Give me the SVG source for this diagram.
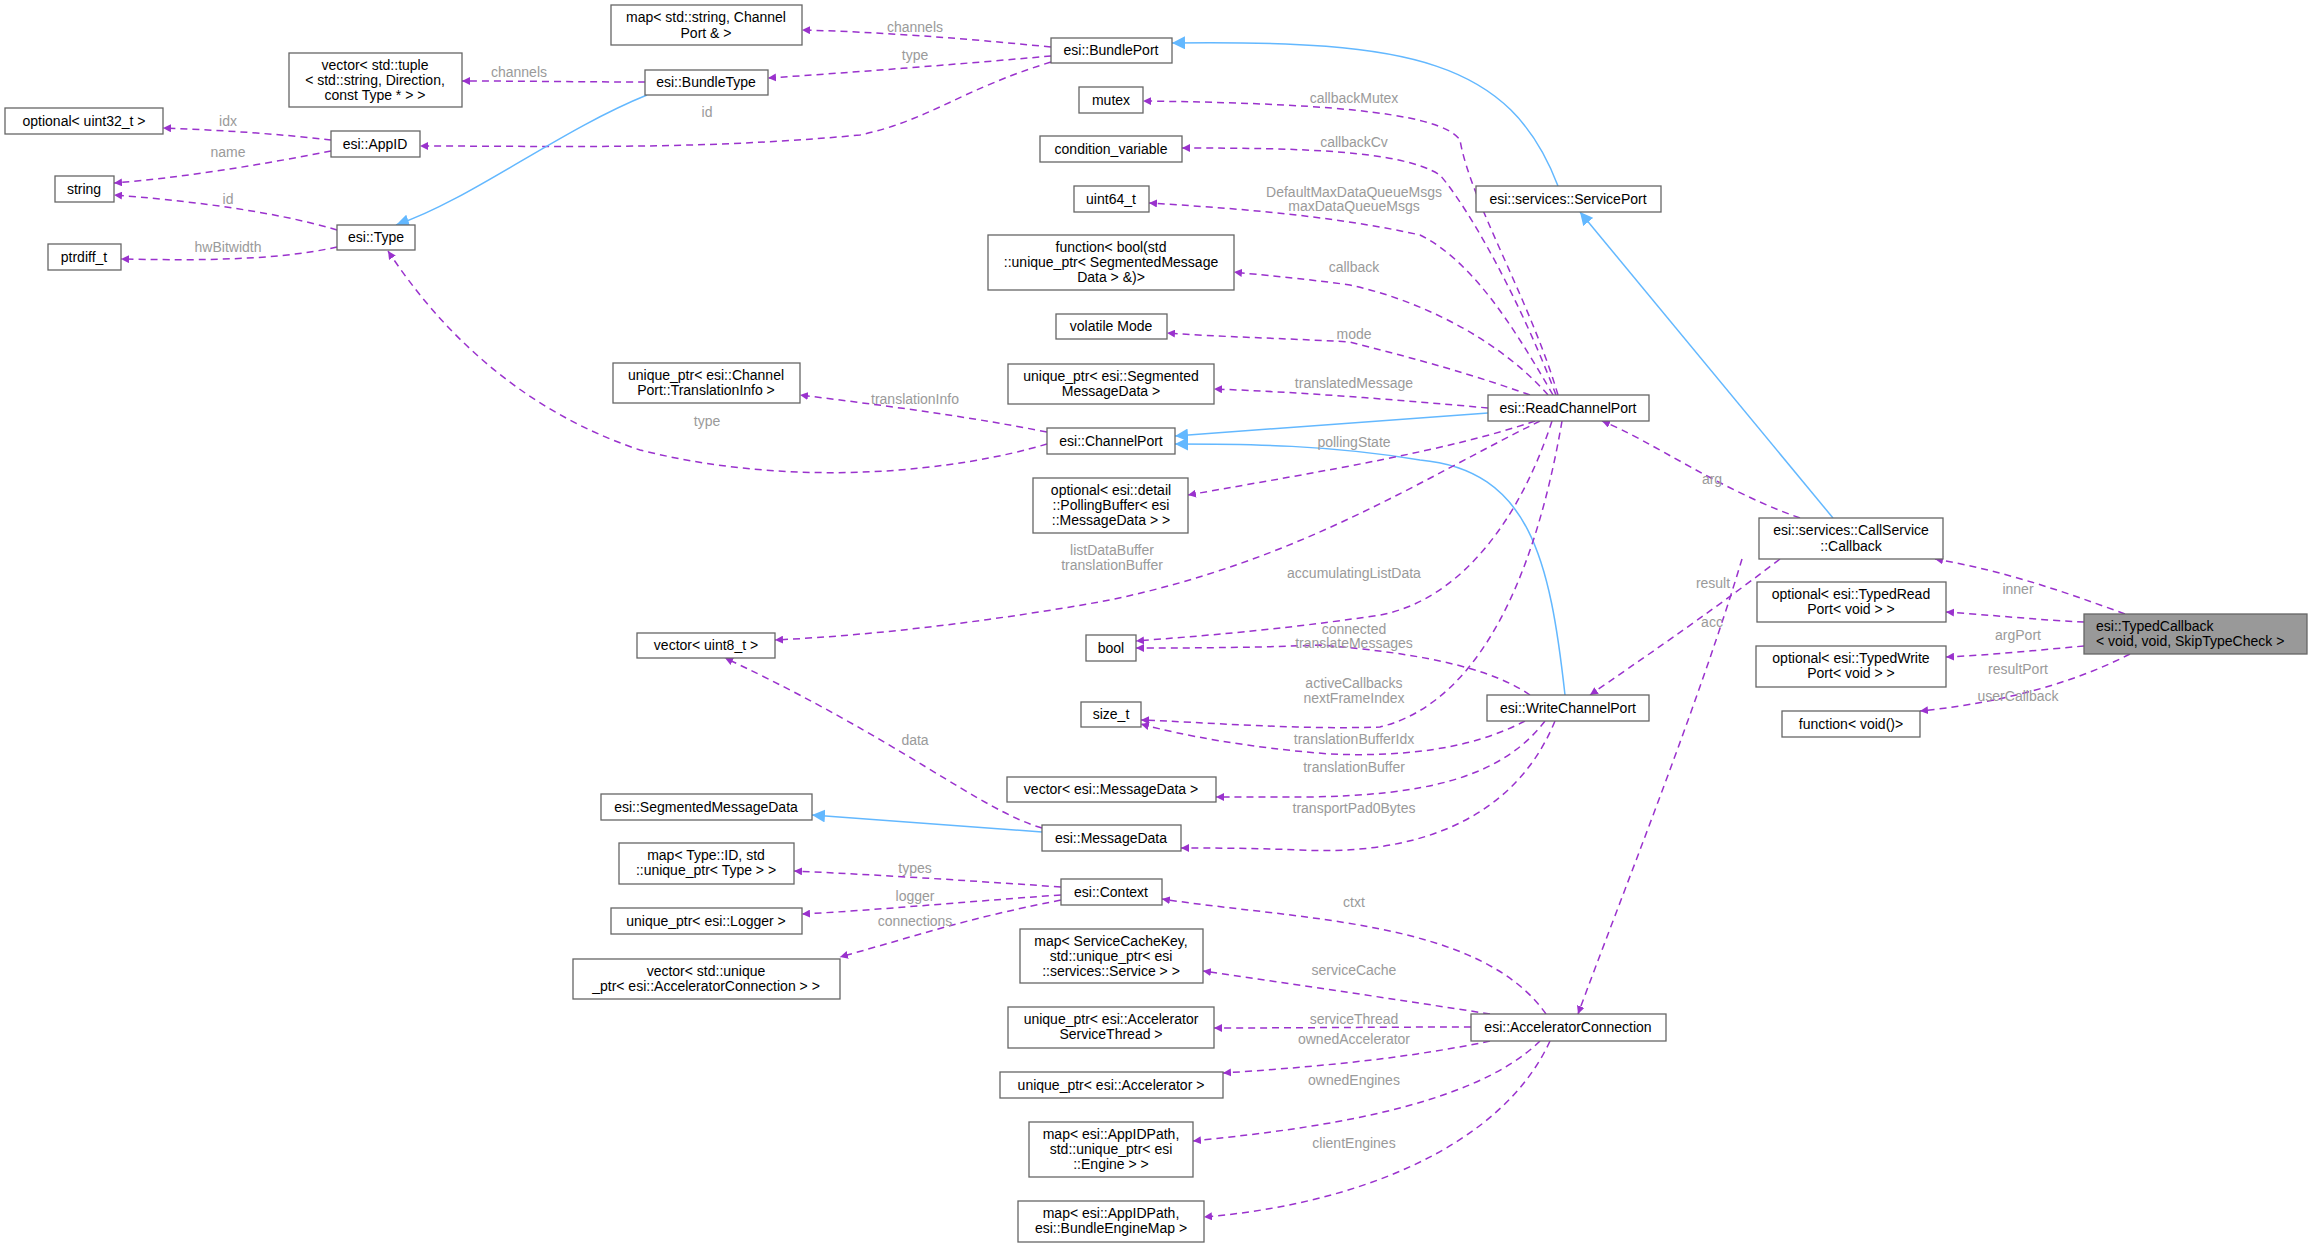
<svg xmlns="http://www.w3.org/2000/svg" width="2312" height="1247" viewBox="0 0 2312 1247">
<style>
.n rect{fill:#fff;stroke:#666;stroke-width:1.3}
.n text,.l{font-family:"Liberation Sans",Arial,sans-serif;font-size:14px;text-anchor:middle}
.n text{fill:#000}
.l{fill:#9a9a9a}
.d{fill:none;stroke:#9a32cd;stroke-width:1.5;stroke-dasharray:7,5;marker-end:url(#pa)}
.b{fill:none;stroke:#63b8ff;stroke-width:1.5;marker-end:url(#ba)}
</style>
<defs>
<marker id="pa" viewBox="0 0 10 10" refX="10" refY="5" markerWidth="8" markerHeight="8" orient="auto" markerUnits="userSpaceOnUse"><path d="M0,0L10,5L0,10z" fill="#9a32cd"/></marker>
<marker id="ba" viewBox="0 0 10 10" refX="10" refY="5" markerWidth="13" markerHeight="13" orient="auto" markerUnits="userSpaceOnUse"><path d="M0,0L10,5L0,10z" fill="#63b8ff"/></marker>
</defs>
<rect width="2312" height="1247" fill="#fff"/>
<g id="edges">
<path class="d" d="M1051,47 C960,38 880,32 802,30"/>
<path class="d" d="M1051,56 C960,64 860,72 768,78"/>
<path class="d" d="M1051,62 C960,90 930,120 860,135 C700,150 560,146 420,146"/>
<path class="d" d="M645,82 C590,82 520,81 462,81"/>
<path class="d" d="M331,140 C280,134 220,130 163,128"/>
<path class="d" d="M331,151 C260,165 180,178 114,183"/>
<path class="d" d="M337,230 C270,210 180,200 114,195"/>
<path class="d" d="M337,247 C270,262 180,260 121,259"/>
<path class="b" d="M647,95 C560,130 470,200 396,225"/>
<path class="d" d="M1047,444 C960,470 800,490 640,450 C520,410 440,330 388,251"/>
<path class="d" d="M1047,432 C960,415 880,405 800,395"/>
<path class="b" d="M1558,186 C1510,60 1410,40 1172,43"/>
<path class="b" d="M1833,518 L1580,212"/>
<path class="b" d="M1488,413 L1175,436"/>
<path class="b" d="M1565,695 C1550,560 1530,470 1420,460 C1330,445 1250,444 1175,444"/>
<path class="b" d="M1042,832 L812,815"/>
<path class="d" d="M1558,395 C1530,300 1470,200 1460,140 C1440,110 1300,103 1143,101"/>
<path class="d" d="M1556,395 C1520,300 1470,210 1440,175 C1400,150 1300,148 1182,148"/>
<path class="d" d="M1553,395 C1510,320 1470,260 1420,235 C1330,215 1230,208 1149,203"/>
<path class="d" d="M1548,395 C1500,340 1420,300 1350,285 C1300,278 1260,275 1234,272"/>
<path class="d" d="M1530,395 C1460,370 1400,355 1350,342 C1280,338 1220,337 1167,333"/>
<path class="d" d="M1488,408 C1400,400 1300,392 1214,389"/>
<path class="d" d="M1535,421 C1450,450 1330,470 1188,495"/>
<path class="d" d="M1540,421 C1420,480 1300,560 1110,600 C1000,620 880,635 775,640"/>
<path class="d" d="M1552,421 C1520,520 1460,600 1380,615 C1280,630 1200,636 1136,641"/>
<path class="d" d="M1562,421 C1540,550 1490,700 1380,727 C1300,730 1200,722 1141,720"/>
<path class="d" d="M1530,695 C1480,660 1380,650 1320,645 C1250,648 1180,648 1136,648"/>
<path class="d" d="M1525,721 C1470,750 1400,757 1330,754 C1250,748 1180,735 1141,724"/>
<path class="d" d="M1545,721 C1500,780 1420,795 1310,797 C1260,797 1230,797 1216,797"/>
<path class="d" d="M1555,721 C1510,830 1400,855 1300,850 C1250,848 1210,848 1181,848"/>
<path class="d" d="M1042,828 C980,810 900,740 725,658"/>
<path class="d" d="M1800,518 C1720,490 1650,440 1602,421"/>
<path class="d" d="M1780,559 C1700,620 1640,660 1590,695"/>
<path class="d" d="M1742,559 C1700,700 1620,900 1578,1014"/>
<path class="d" d="M2125,614 C2060,590 2000,570 1935,559"/>
<path class="d" d="M2084,622 C2040,620 1990,615 1946,612"/>
<path class="d" d="M2084,646 C2040,650 1990,655 1946,657"/>
<path class="d" d="M2130,654 C2060,690 1980,705 1920,711"/>
<path class="d" d="M1546,1014 C1480,920 1300,920 1162,899"/>
<path class="d" d="M1490,1014 C1400,1000 1300,985 1203,971"/>
<path class="d" d="M1471,1027 C1380,1027 1300,1028 1214,1028"/>
<path class="d" d="M1490,1041 C1400,1060 1300,1068 1223,1073"/>
<path class="d" d="M1540,1041 C1470,1110 1300,1130 1193,1141"/>
<path class="d" d="M1550,1041 C1500,1150 1350,1205 1204,1217"/>
<path class="d" d="M1061,887 C960,880 880,875 794,871"/>
<path class="d" d="M1061,895 C960,902 880,910 802,914"/>
<path class="d" d="M1061,900 C960,920 920,935 840,957"/>
</g>
<g id="labels">
<text class="l" x="915" y="32">channels</text>
<text class="l" x="915" y="60">type</text>
<text class="l" x="707" y="117">id</text>
<text class="l" x="519" y="77">channels</text>
<text class="l" x="228" y="126">idx</text>
<text class="l" x="228" y="157">name</text>
<text class="l" x="228" y="204">id</text>
<text class="l" x="228" y="252">hwBitwidth</text>
<text class="l" x="707" y="426">type</text>
<text class="l" x="915" y="404">translationInfo</text>
<text class="l" x="1354" y="103">callbackMutex</text>
<text class="l" x="1354" y="147">callbackCv</text>
<text class="l" x="1354" y="197">DefaultMaxDataQueueMsgs</text>
<text class="l" x="1354" y="211">maxDataQueueMsgs</text>
<text class="l" x="1354" y="272">callback</text>
<text class="l" x="1354" y="339">mode</text>
<text class="l" x="1354" y="388">translatedMessage</text>
<text class="l" x="1354" y="447">pollingState</text>
<text class="l" x="1112" y="555">listDataBuffer</text>
<text class="l" x="1112" y="570">translationBuffer</text>
<text class="l" x="1354" y="578">accumulatingListData</text>
<text class="l" x="1354" y="634">connected</text>
<text class="l" x="1354" y="648">translateMessages</text>
<text class="l" x="1354" y="688">activeCallbacks</text>
<text class="l" x="1354" y="703">nextFrameIndex</text>
<text class="l" x="1354" y="744">translationBufferIdx</text>
<text class="l" x="1354" y="772">translationBuffer</text>
<text class="l" x="1354" y="813">transportPad0Bytes</text>
<text class="l" x="915" y="745">data</text>
<text class="l" x="1712" y="484">arg</text>
<text class="l" x="1713" y="588">result</text>
<text class="l" x="1712" y="627">acc</text>
<text class="l" x="2018" y="594">inner</text>
<text class="l" x="2018" y="640">argPort</text>
<text class="l" x="2018" y="674">resultPort</text>
<text class="l" x="2018" y="701">userCallback</text>
<text class="l" x="1354" y="907">ctxt</text>
<text class="l" x="1354" y="975">serviceCache</text>
<text class="l" x="1354" y="1024">serviceThread</text>
<text class="l" x="1354" y="1044">ownedAccelerator</text>
<text class="l" x="1354" y="1085">ownedEngines</text>
<text class="l" x="1354" y="1148">clientEngines</text>
<text class="l" x="915" y="873">types</text>
<text class="l" x="915" y="901">logger</text>
<text class="l" x="915" y="926">connections</text>
</g>
<g id="mapBundle" class="n"><rect x="611" y="5" width="191" height="40"/><text x="706" y="22">map&lt; std::string, Channel</text><text x="706" y="38">Port &amp; &gt;</text></g>
<g id="vecTuple" class="n"><rect x="289" y="53" width="173" height="54"/><text x="375" y="70">vector&lt; std::tuple</text><text x="375" y="85">&lt; std::string, Direction,</text><text x="375" y="100">const Type * &gt; &gt;</text></g>
<g id="BundleType" class="n"><rect x="645" y="70" width="123" height="25"/><text x="706" y="87">esi::BundleType</text></g>
<g id="BundlePort" class="n"><rect x="1051" y="38" width="121" height="25"/><text x="1111" y="55">esi::BundlePort</text></g>
<g id="optU32" class="n"><rect x="5" y="108" width="158" height="26"/><text x="84" y="126">optional&lt; uint32_t &gt;</text></g>
<g id="AppID" class="n"><rect x="331" y="131" width="89" height="26"/><text x="375" y="149">esi::AppID</text></g>
<g id="string" class="n"><rect x="55" y="176" width="59" height="26"/><text x="84" y="194">string</text></g>
<g id="Type" class="n"><rect x="337" y="225" width="78" height="25"/><text x="376" y="242">esi::Type</text></g>
<g id="ptrdiff" class="n"><rect x="48" y="244" width="73" height="26"/><text x="84" y="262">ptrdiff_t</text></g>
<g id="transInfo" class="n"><rect x="613" y="363" width="187" height="40"/><text x="706" y="380">unique_ptr&lt; esi::Channel</text><text x="706" y="395">Port::TranslationInfo &gt;</text></g>
<g id="ChannelPort" class="n"><rect x="1047" y="428" width="128" height="26"/><text x="1111" y="446">esi::ChannelPort</text></g>
<g id="mutex" class="n"><rect x="1079" y="87" width="64" height="26"/><text x="1111" y="105">mutex</text></g>
<g id="condvar" class="n"><rect x="1040" y="136" width="142" height="26"/><text x="1111" y="154">condition_variable</text></g>
<g id="uint64" class="n"><rect x="1074" y="186" width="75" height="26"/><text x="1111" y="204">uint64_t</text></g>
<g id="funcBool" class="n"><rect x="988" y="235" width="246" height="55"/><text x="1111" y="252">function&lt; bool(std</text><text x="1111" y="267">::unique_ptr&lt; SegmentedMessage</text><text x="1111" y="282">Data &gt; &amp;)&gt;</text></g>
<g id="volMode" class="n"><rect x="1056" y="314" width="111" height="25"/><text x="1111" y="331">volatile Mode</text></g>
<g id="upSeg" class="n"><rect x="1008" y="364" width="206" height="40"/><text x="1111" y="381">unique_ptr&lt; esi::Segmented</text><text x="1111" y="396">MessageData &gt;</text></g>
<g id="ReadChannelPort" class="n"><rect x="1488" y="395" width="161" height="26"/><text x="1568" y="413">esi::ReadChannelPort</text></g>
<g id="ServicePort" class="n"><rect x="1476" y="186" width="185" height="26"/><text x="1568" y="204">esi::services::ServicePort</text></g>
<g id="polling" class="n"><rect x="1033" y="478" width="155" height="55"/><text x="1111" y="495">optional&lt; esi::detail</text><text x="1111" y="510">::PollingBuffer&lt; esi</text><text x="1111" y="525">::MessageData &gt; &gt;</text></g>
<g id="Callback" class="n"><rect x="1759" y="518" width="184" height="41"/><text x="1851" y="535">esi::services::CallService</text><text x="1851" y="551">::Callback</text></g>
<g id="typedRead" class="n"><rect x="1757" y="582" width="189" height="40"/><text x="1851" y="599">optional&lt; esi::TypedRead</text><text x="1851" y="614">Port&lt; void &gt; &gt;</text></g>
<g id="TypedCallback" class="n"><rect x="2084" y="614" width="223" height="40" style="fill:#999"/><text x="2096" y="631" style="text-anchor:start">esi::TypedCallback</text><text x="2096" y="646" style="text-anchor:start">&lt; void, void, SkipTypeCheck &gt;</text></g>
<g id="typedWrite" class="n"><rect x="1756" y="646" width="190" height="41"/><text x="1851" y="663">optional&lt; esi::TypedWrite</text><text x="1851" y="678">Port&lt; void &gt; &gt;</text></g>
<g id="funcVoid" class="n"><rect x="1782" y="711" width="138" height="26"/><text x="1851" y="729">function&lt; void()&gt;</text></g>
<g id="bool" class="n"><rect x="1086" y="635" width="50" height="26"/><text x="1111" y="653">bool</text></g>
<g id="WriteChannelPort" class="n"><rect x="1487" y="695" width="162" height="26"/><text x="1568" y="713">esi::WriteChannelPort</text></g>
<g id="size_t" class="n"><rect x="1081" y="702" width="60" height="25"/><text x="1111" y="719">size_t</text></g>
<g id="vecMD" class="n"><rect x="1007" y="777" width="209" height="25"/><text x="1111" y="794">vector&lt; esi::MessageData &gt;</text></g>
<g id="MessageData" class="n"><rect x="1042" y="825" width="139" height="26"/><text x="1111" y="843">esi::MessageData</text></g>
<g id="Context" class="n"><rect x="1061" y="879" width="101" height="26"/><text x="1111" y="897">esi::Context</text></g>
<g id="mapSvc" class="n"><rect x="1020" y="929" width="183" height="54"/><text x="1111" y="946">map&lt; ServiceCacheKey,</text><text x="1111" y="961">std::unique_ptr&lt; esi</text><text x="1111" y="976">::services::Service &gt; &gt;</text></g>
<g id="svcThread" class="n"><rect x="1008" y="1007" width="206" height="41"/><text x="1111" y="1024">unique_ptr&lt; esi::Accelerator</text><text x="1111" y="1039">ServiceThread &gt;</text></g>
<g id="upAcc" class="n"><rect x="1000" y="1072" width="223" height="26"/><text x="1111" y="1090">unique_ptr&lt; esi::Accelerator &gt;</text></g>
<g id="mapEngine" class="n"><rect x="1029" y="1122" width="164" height="55"/><text x="1111" y="1139">map&lt; esi::AppIDPath,</text><text x="1111" y="1154">std::unique_ptr&lt; esi</text><text x="1111" y="1169">::Engine &gt; &gt;</text></g>
<g id="mapBEM" class="n"><rect x="1018" y="1201" width="186" height="41"/><text x="1111" y="1218">map&lt; esi::AppIDPath,</text><text x="1111" y="1233">esi::BundleEngineMap &gt;</text></g>
<g id="AcceleratorConnection" class="n"><rect x="1471" y="1014" width="195" height="27"/><text x="1568" y="1032">esi::AcceleratorConnection</text></g>
<g id="vecU8" class="n"><rect x="637" y="633" width="138" height="25"/><text x="706" y="650">vector&lt; uint8_t &gt;</text></g>
<g id="SegmentedMessageData" class="n"><rect x="601" y="794" width="211" height="26"/><text x="706" y="812">esi::SegmentedMessageData</text></g>
<g id="mapTypes" class="n"><rect x="619" y="843" width="175" height="41"/><text x="706" y="860">map&lt; Type::ID, std</text><text x="706" y="875">::unique_ptr&lt; Type &gt; &gt;</text></g>
<g id="upLogger" class="n"><rect x="611" y="908" width="191" height="26"/><text x="706" y="926">unique_ptr&lt; esi::Logger &gt;</text></g>
<g id="vecAC" class="n"><rect x="573" y="959" width="267" height="40"/><text x="706" y="976">vector&lt; std::unique</text><text x="706" y="991">_ptr&lt; esi::AcceleratorConnection &gt; &gt;</text></g>
</svg>
